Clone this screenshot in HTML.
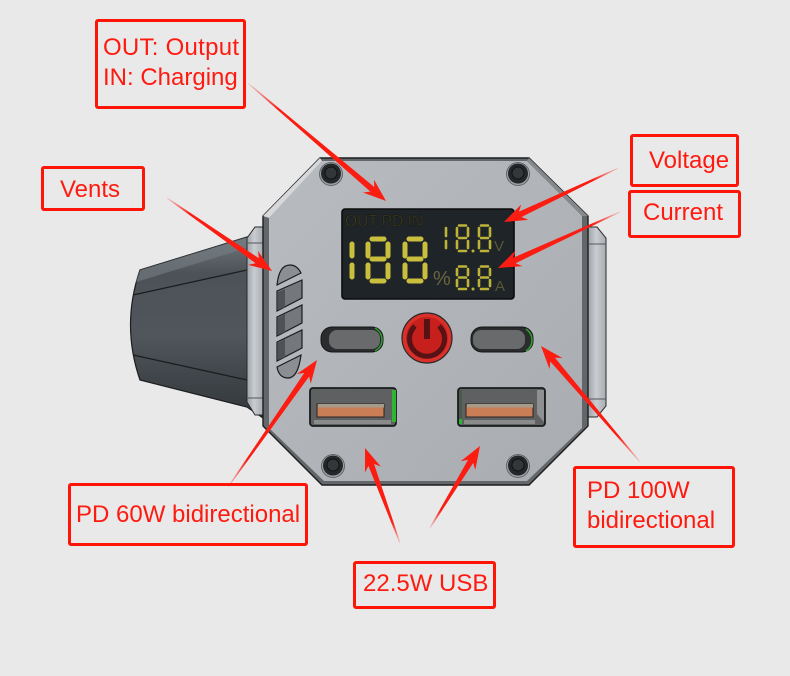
<!DOCTYPE html>
<html><head><meta charset="utf-8"><style>
html,body{margin:0;padding:0;background:#e9e9e9}
svg{display:block}
text{font-family:"Liberation Sans",sans-serif}
.l{font-size:24px;fill:#ff1a10}
.b{fill:none;stroke:#ff1408;stroke-width:3}
.a{fill:url(#tail)}
.big{stroke:#c9bf3c;stroke-width:5;stroke-linecap:round;fill:none}
.sm{stroke:#bdb338;stroke-width:2.6;stroke-linecap:round;fill:none}
.k{stroke:#1b1d1f;stroke-width:1.2;fill:none}
</style></head><body>
<svg width="790" height="676" viewBox="0 0 790 676" xmlns="http://www.w3.org/2000/svg">
<defs>
<linearGradient id="body" x1="0" y1="0" x2="0" y2="1">
<stop offset="0" stop-color="#70777c"/><stop offset=".2" stop-color="#4c5257"/><stop offset=".55" stop-color="#50565b"/><stop offset=".78" stop-color="#40454a"/><stop offset="1" stop-color="#33373a"/>
</linearGradient>
<linearGradient id="flange" x1="0" y1="0" x2="1" y2="0">
<stop offset="0" stop-color="#9ea3a7"/><stop offset=".45" stop-color="#c9ccd0"/><stop offset="1" stop-color="#a8adb1"/>
</linearGradient>
<linearGradient id="plate" x1="0" y1="0" x2="1" y2="1">
<stop offset="0" stop-color="#b8bcc0"/><stop offset="1" stop-color="#a9adb1"/>
</linearGradient>
<linearGradient id="tail" x1="0" y1="0" x2="1" y2="0">
<stop offset="0" stop-color="#fb1c12" stop-opacity=".15"/><stop offset=".22" stop-color="#fb1c12"/><stop offset="1" stop-color="#fb1c12"/>
</linearGradient>
<g id="screw">
<circle r="11.5" fill="#9a9ea1" stroke="#55585b" stroke-width=".8"/>
<circle r="10" cy="-.5" fill="#24272a"/>
<circle r="6" cy="-1" fill="#34373a" stroke="#111" stroke-width="1"/>
</g>
</defs>
<rect width="790" height="676" fill="#e9e9e9"/>

<!-- rear body -->
<path d="M140 270 L247 237 L263 237 L263 418 L247 407 L140 380 Q121 325 140 270Z" fill="url(#body)" stroke="#1b1d1f" stroke-width="1.2"/>
<path d="M133 295 L247 270 M133 355 L247 380" class="k"/>
<path d="M140 270 L247 237 L247 248 L136 282Z" fill="#777e83" opacity=".6"/>
<!-- left flange -->
<path d="M247 238 L255 227 L263 227 L263 415 L255 415 L247 402Z" fill="url(#flange)" stroke="#2a2c2e" stroke-width="1"/>
<path d="M247 243 L263 243 M247 398 L263 398" stroke="#55595c" stroke-width="1" fill="none"/>
<!-- right flange -->
<path d="M588 227 L597 227 L606 238 L606 406 L597 417 L588 417Z" fill="url(#flange)" stroke="#2a2c2e" stroke-width="1"/>
<path d="M589 244 L606 244 M589 399 L606 399" stroke="#55595c" stroke-width="1" fill="none"/>

<!-- plate -->
<path d="M320 158 L529 158 L588 216 L588 426 L529 485 L322 485 L263 426 L263 216Z" fill="#63676a" stroke="#1c1e20" stroke-width="1.4"/>
<path d="M322 161 L527 161 L582 216 L582 428 L527 481 L324 481 L269 428 L269 218Z" fill="url(#plate)"/>
<path d="M320 158 L263 216 L269 218 L322 161Z" fill="#d6d8da"/>
<path d="M529 158 L588 216 L582 216 L527 161Z" fill="#85898c"/>

<use href="#screw" x="331" y="174"/>
<use href="#screw" x="518" y="174"/>
<use href="#screw" x="333" y="466"/>
<use href="#screw" x="518" y="466"/>

<!-- vents -->
<g fill="#74787c" stroke="#1b1d1f" stroke-width="1.2">
<path d="M277 285 Q279 265 290 265 Q297 265 301 273Z" fill="#8b8f93"/>
<path d="M277 291 L302 280 L302 298 L277 311Z"/>
<path d="M277 317 L302 305 L302 323 L277 336Z"/>
<path d="M277 342 L302 330 L302 348 L277 361Z"/>
<path d="M277 367 L301 355 Q298 378 288 378 Q279 378 277 367Z" fill="#8b8f93"/>
</g>
<path d="M278 292 L285 289 L285 307 L278 310Z M278 318 L285 314 L285 332 L278 335Z M278 343 L285 339 L285 357 L278 360Z" fill="#4e5256"/>

<!-- screen -->
<rect x="342" y="209" width="172" height="90" rx="3" fill="#1e2428" stroke="#0b0c0d" stroke-width="1.6"/>
<text x="345" y="226" font-size="15.500" fill="#403e20" stroke="#0f100b" stroke-width=".4">OUT PD IN</text>
<g class="big">
<path d="M352 244V256M352 265V277"/>
<path d="M368 244V256M368 265V277M388 244V256M388 265V277M372 239H384M372 259H384M372 281H384"/>
<path d="M405 244V256M405 265V277M425 244V256M425 265V277M409 239H421M409 259H421M409 281H421"/>
</g>
<g class="sm">
<path d="M446 228V236M446 241V248"/>
<path d="M457 228V236M457 241V248M468 228V236M468 241V248M459 225.500H466M459 238H466M459 251H466"/>
<path d="M479 228V236M479 241V248M490 228V236M490 241V248M481 225.500H488M481 238H488M481 251H488"/>
<path d="M457 269V275M457 280V286M468 269V275M468 280V286M459 266.500H466M459 277.500H466M459 289H466"/>
<path d="M479 269V275M479 280V286M490 269V275M490 280V286M481 266.500H488M481 277.500H488M481 289H488"/>
</g>
<circle cx="473" cy="251" r="1.500" fill="#bdb338"/>
<circle cx="473" cy="289" r="1.500" fill="#bdb338"/>
<text x="494" y="251" font-size="15" fill="#5a5834">V</text>
<text x="495" y="291" font-size="15" fill="#5a5834">A</text>
<text x="433" y="285" font-size="20" fill="#6a6640">%</text>

<!-- buttons -->
<rect x="321" y="327" width="62" height="25" rx="11" fill="#2a2c2d" stroke="#151617"/>
<rect x="329" y="330" width="51" height="19" rx="8" fill="#696a6b"/>
<path d="M375 328 Q382 332 382 340 Q382 347 375 351" fill="none" stroke="#2fa02f" stroke-width="1.500"/>
<rect x="471" y="327" width="62" height="25" rx="11" fill="#2a2c2d" stroke="#151617"/>
<rect x="473" y="330" width="52" height="19" rx="8" fill="#696a6b"/>
<path d="M526 329 Q532 333 532 340 Q532 347 526 351" fill="none" stroke="#2fa02f" stroke-width="1.500"/>

<!-- power -->
<circle cx="427" cy="338" r="25" fill="#d9302a" stroke="#26282a" stroke-width="1.200"/>
<circle cx="427" cy="338" r="21" fill="#c7201c"/>
<path d="M415 326 A17.500 17.500 0 1 0 439 326" fill="none" stroke="#561214" stroke-width="5"/>
<rect x="424" y="319" width="6" height="20" fill="#561214"/>

<!-- USB -->
<g>
<rect x="310" y="388" width="86" height="38" rx="3" fill="#5f6061" stroke="#1a1b1c" stroke-width="1.800"/>
<rect x="392" y="390" width="4" height="32" fill="#2fb52f"/>
<path d="M314 420 L391 420 L391 424 L314 424Z" fill="#8a8b8a"/>
<path d="M317 404 L384 404 L384 417 L317 417Z" fill="#c97e55" stroke="#2a2524" stroke-width="1"/>
<rect x="318" y="404" width="66" height="3.500" fill="#a69a88"/>
<rect x="458" y="388" width="87" height="38" rx="3" fill="#5f6061" stroke="#1a1b1c" stroke-width="1.800"/>
<rect x="459" y="390" width="3" height="32" fill="#4a5a4a"/>
<rect x="459" y="419" width="3" height="5" fill="#2fb52f"/>
<path d="M537 390 L544 390 L544 422 L537 414Z" fill="#8f9091"/>
<path d="M466 404 L533 404 L533 417 L466 417Z" fill="#c97e55" stroke="#2a2524" stroke-width="1"/>
<rect x="467" y="404" width="66" height="3.500" fill="#a69a88"/>
<path d="M464 420 L535 420 L535 424 L464 424Z" fill="#8a8b8a"/>
</g>

<!-- arrows -->
<g class="a">
<polygon transform="translate(386 201) rotate(40.5)" points="0,0 -23,-8.500 -18,-3 -181,-.5 -181,.5 -18,3 -23,8.500"/>
<polygon transform="translate(272 271) rotate(34.8)" points="0,0 -23,-8.500 -18,-3 -128,-.5 -128,.5 -18,3 -23,8.500"/>
<polygon transform="translate(504 222) rotate(154.7)" points="0,0 -23,-8.500 -18,-3 -126,-.5 -126,.5 -18,3 -23,8.500"/>
<polygon transform="translate(498 268) rotate(155.3)" points="0,0 -23,-8.500 -18,-3 -134,-.5 -134,.5 -18,3 -23,8.500"/>
<polygon transform="translate(317 360) rotate(-55)" points="0,0 -23,-8.500 -18,-3 -155,-.5 -155,.5 -18,3 -23,8.500"/>
<polygon transform="translate(541 346) rotate(-130.5)" points="0,0 -23,-8.500 -18,-3 -152,-.5 -152,.5 -18,3 -23,8.500"/>
<polygon transform="translate(365 448) rotate(-110.2)" points="0,0 -23,-8.500 -18,-3 -101,-.5 -101,.5 -18,3 -23,8.500"/>
<polygon transform="translate(480 446) rotate(-58.6)" points="0,0 -23,-8.500 -18,-3 -96,-.5 -96,.5 -18,3 -23,8.500"/>
</g>

<!-- label boxes -->
<g class="b">
<rect x="96.500" y="20.500" width="148" height="87" rx="1.500"/>
<rect x="42.500" y="167.500" width="101" height="42" rx="1.500"/>
<rect x="631.500" y="135.500" width="106" height="50" rx="1.500"/>
<rect x="629.500" y="191.500" width="110" height="45" rx="1.500"/>
<rect x="69.500" y="484.500" width="237" height="60" rx="1.500"/>
<rect x="354.500" y="562.500" width="140" height="45" rx="1.500"/>
<rect x="574.500" y="467.500" width="159" height="79" rx="1.500"/>
</g>
<g class="l">
<text x="103" y="55" textLength="136" lengthAdjust="spacing">OUT: Output</text>
<text x="103" y="85">IN: Charging</text>
<text x="60" y="197">Vents</text>
<text x="649" y="168">Voltage</text>
<text x="643" y="220">Current</text>
<text x="76" y="522">PD 60W bidirectional</text>
<text x="587" y="498">PD 100W</text>
<text x="587" y="528">bidirectional</text>
<text x="363" y="591">22.5W USB</text>
</g>
</svg>
</body></html>
